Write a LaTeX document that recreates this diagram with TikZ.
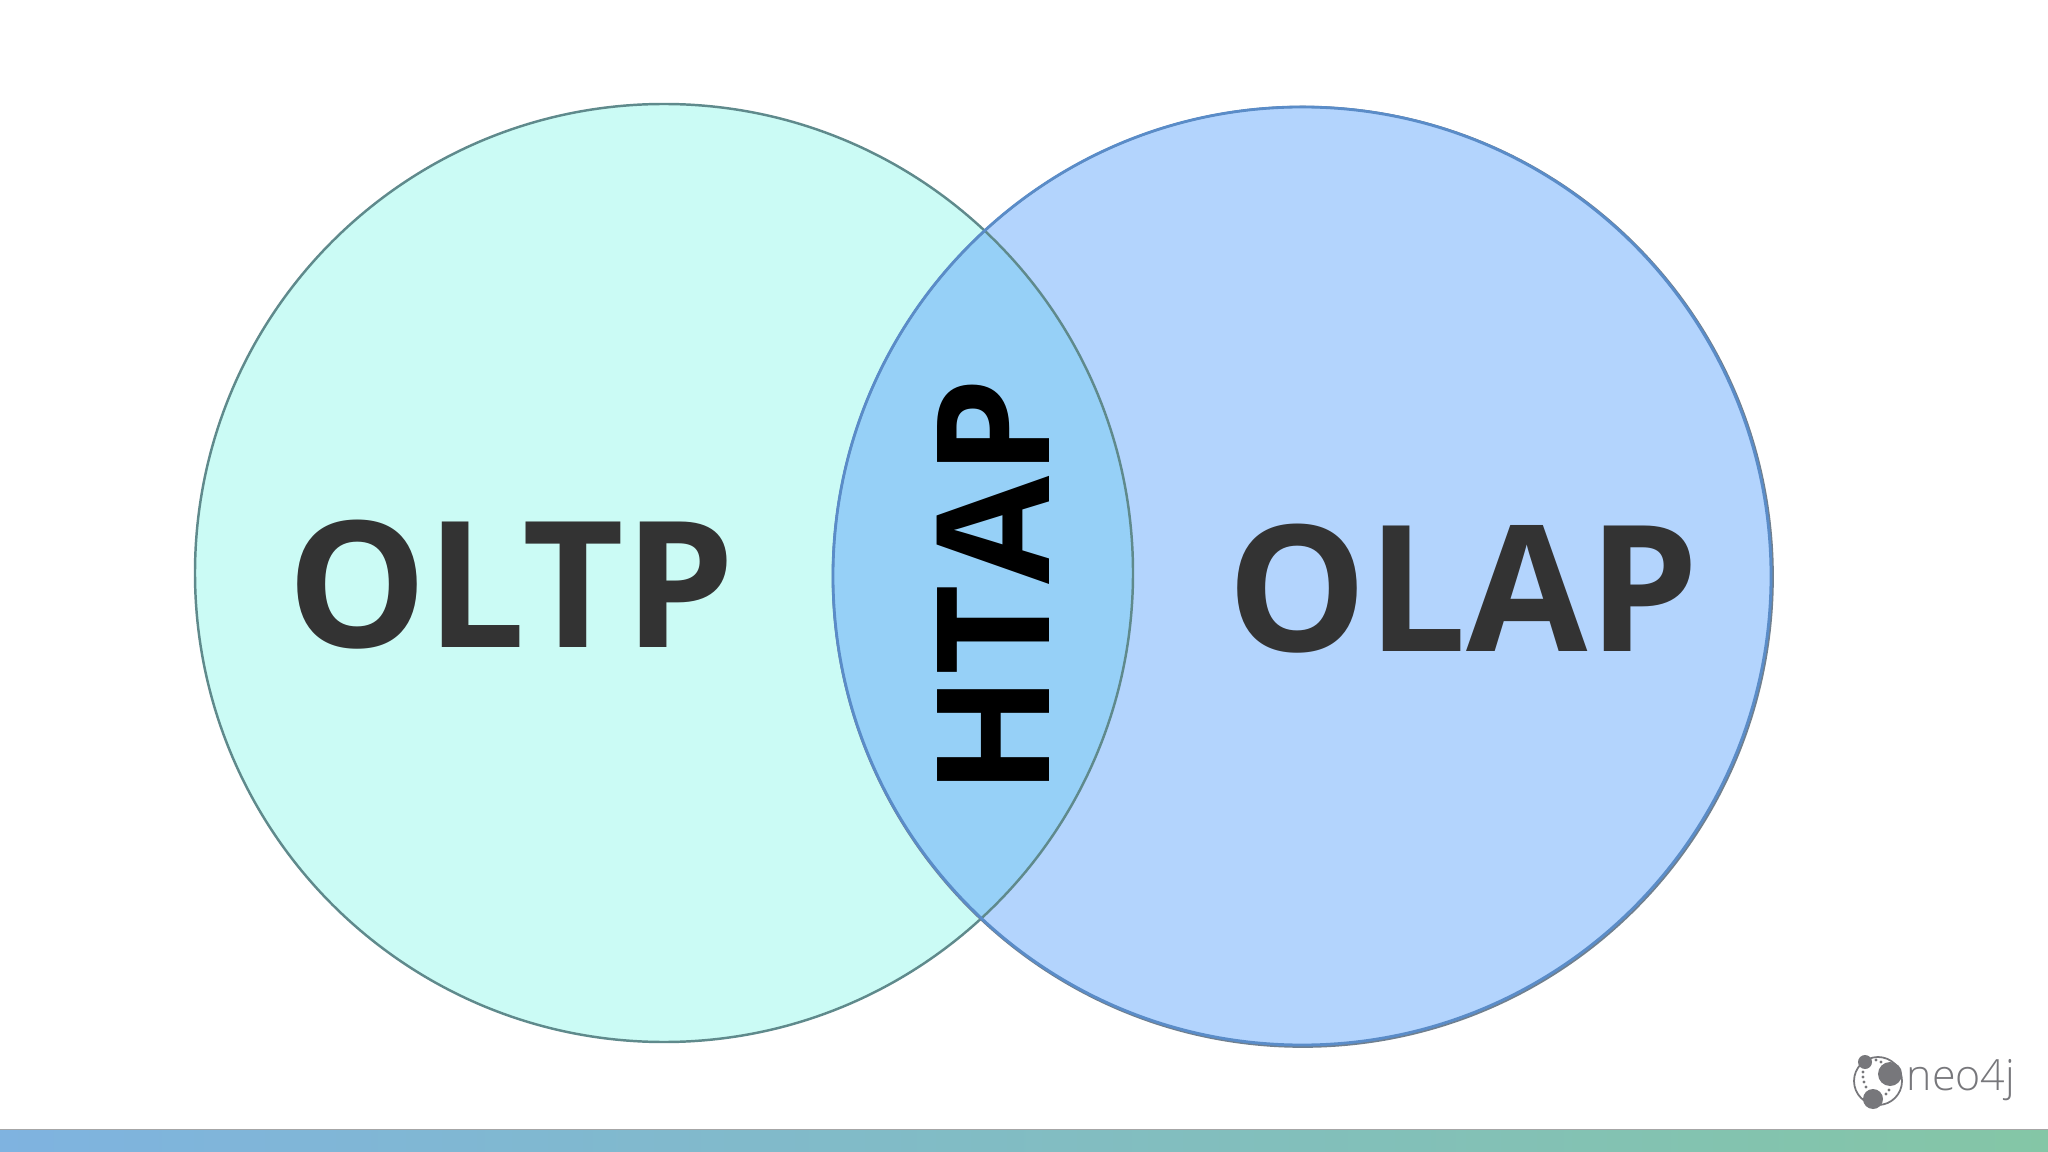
\documentclass[tikz,border=0pt]{standalone}
\usepackage{fontspec}
\setmainfont{Open Sans}
\newfontfamily\logofont{Open Sans Light}
\definecolor{oltpfill}{HTML}{CBFBF5}
\definecolor{olapfill}{HTML}{B3D4FD}
\definecolor{htapfill}{HTML}{96D0F7}
\definecolor{oltpline}{HTML}{5F8A8C}
\definecolor{olapline}{HTML}{5A8CC8}
\definecolor{olapedge}{HTML}{70808F}
\definecolor{wordcol}{HTML}{333333}
\definecolor{logocol}{HTML}{77777B}
\definecolor{barleft}{HTML}{7FB3E0}
\definecolor{barright}{HTML}{84C6A6}
\tikzset{
    bigword/.style={font=\fontsize{50}{50}\selectfont\bfseries, text=wordcol, inner sep=0pt}
}
\begin{document}
\begin{tikzpicture}[x=0.01cm, y=-0.01cm]
    \useasboundingbox (0, 0) rectangle (2048, 1152);
    \fill[barleft, left color=barleft, right color=barright] (0, 1130) rectangle (2048, 1152);
    \draw[black!35, line width=0.4pt] (0, 1129.5) -- (2048, 1129.5);
    \fill[oltpfill] (664, 573) circle (469);
    \fill[olapfill] (1302, 576) circle (470);
    \begin{scope}
        \clip (664, 573) circle (469);
        \fill[htapfill] (1302, 576) circle (470);
    \end{scope}
    \draw[oltpline, line width=0.7pt] (664, 573) circle (469);
    \draw[olapedge, line width=0.6pt] (1302.8, 576.8) circle (470);
    \draw[olapline, line width=0.8pt] (1302, 576) circle (469);

    \node[bigword] (oltp) at (511, 585) {OLTP};
    \node[bigword] (olap) at (1463, 589) {OLAP};
    \node[bigword, text=black, font=\fontsize{44.6}{44.6}\selectfont\bfseries, rotate=90] (htap) at (993, 587) {HT\kern0pt A\kern0pt P};

    % logo
    \draw[logocol, line width=0.5pt] (1878, 1081) circle (24);
    \fill[logocol] (1890, 1074) circle (12);
    \fill[logocol] (1865, 1062) circle (7);
    \fill[logocol] (1873, 1099) circle (10);
    \foreach \dotx/\doty in {1876/1060, 1881/1062, 1863/1072, 1863/1077, 1864/1082, 1866/1087, 1889/1090, 1886/1094}
        \fill[logocol] (\dotx, \doty) circle (1.6);
    \node[text=logocol, inner sep=0pt, anchor=base west, font=\logofont\fontsize{12.2}{12.2}\selectfont] (neo) at (1906, 1090) {neo4j};
\end{tikzpicture}
\end{document}
